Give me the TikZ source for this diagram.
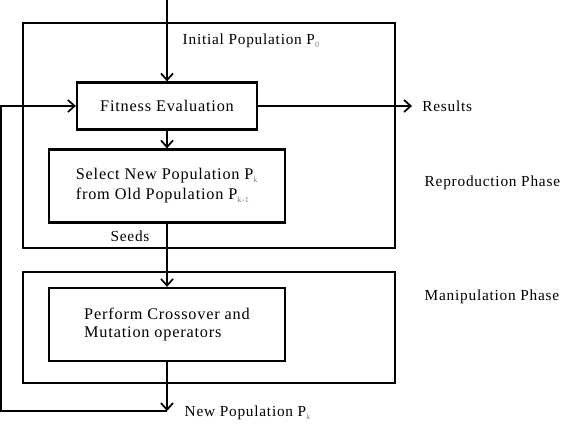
\documentclass[tikz,border=0pt]{standalone}
\usepackage{fontspec}
\setmainfont{Liberation Serif}[LetterSpace=5]
\usepackage{tikz}
\usetikzlibrary{arrows.meta}
\newcommand{\popsub}[1]{\textsubscript{\color{gray}\fontsize{6}{6}\selectfont #1}}

\begin{document}
\begin{tikzpicture}[x = 0.75pt , y = -0.75pt ,
    font = \fontsize{11.5}{15}\selectfont ,
    phasebox/.style = {draw , line width = 0.9pt} ,
    stepbox/.style = {draw , line width = 1.7pt , minimum width = 177pt , minimum height = 54.75pt , font = \fontsize{12.2}{15}\selectfont} ,
    flow/.style = {line width = 1.3pt , -{Straight Barb[length = 5pt , width = 9pt]}}]
    \useasboundingbox (0,0) rectangle (564,426);
    \draw[phasebox] (23,23) rectangle (395,248); % Reproduction
    \draw[phasebox] (23,272) rectangle (395,383); % Manipulation
    \node[stepbox , minimum width = 135pt , minimum height = 35.25pt] (fitness) at (167,106) {Fitness Evaluation};
    \node[stepbox , align = left] (select) at (167,186) {Select New Population P\popsub{k}\\from Old Population P\popsub{k-1}};
    \node[stepbox , align = left , font = \fontsize{12.2}{13}\selectfont] (perform) at (167,324.5) {Perform Crossover and\\Mutation operators};
    \coordinate (start) at (167,0);
    \coordinate (back) at (167,411);
    \coordinate (backleft) at (1,411);
    \coordinate (backtop) at (1,106);
    \node[anchor = west , inner xsep = 7.5pt] (results) at (412,106) {Results};
    \node[anchor = west] (initial) at (178,41) {Initial Population P\popsub{0}};
    \node (seeds) at (130,236) {Seeds};
    \node[anchor = west] (newpop) at (180,413) {New Population P\popsub{k}};
    \node[anchor = west] (reproduction) at (420,183) {Reproduction Phase};
    \node[anchor = west] (manipulation) at (420,297) {Manipulation Phase};
    \draw[flow] (start) -- (fitness);
    \draw[flow] (fitness) -- (select);
    \draw[flow] (select) -- (perform);
    \draw[flow] (perform) -- (back);
    \draw[flow] (fitness) -- (results);
    \draw[flow] (back) -- (backleft) -- (backtop) -- (fitness.west); % Ανάδραση
\end{tikzpicture}
\end{document}
